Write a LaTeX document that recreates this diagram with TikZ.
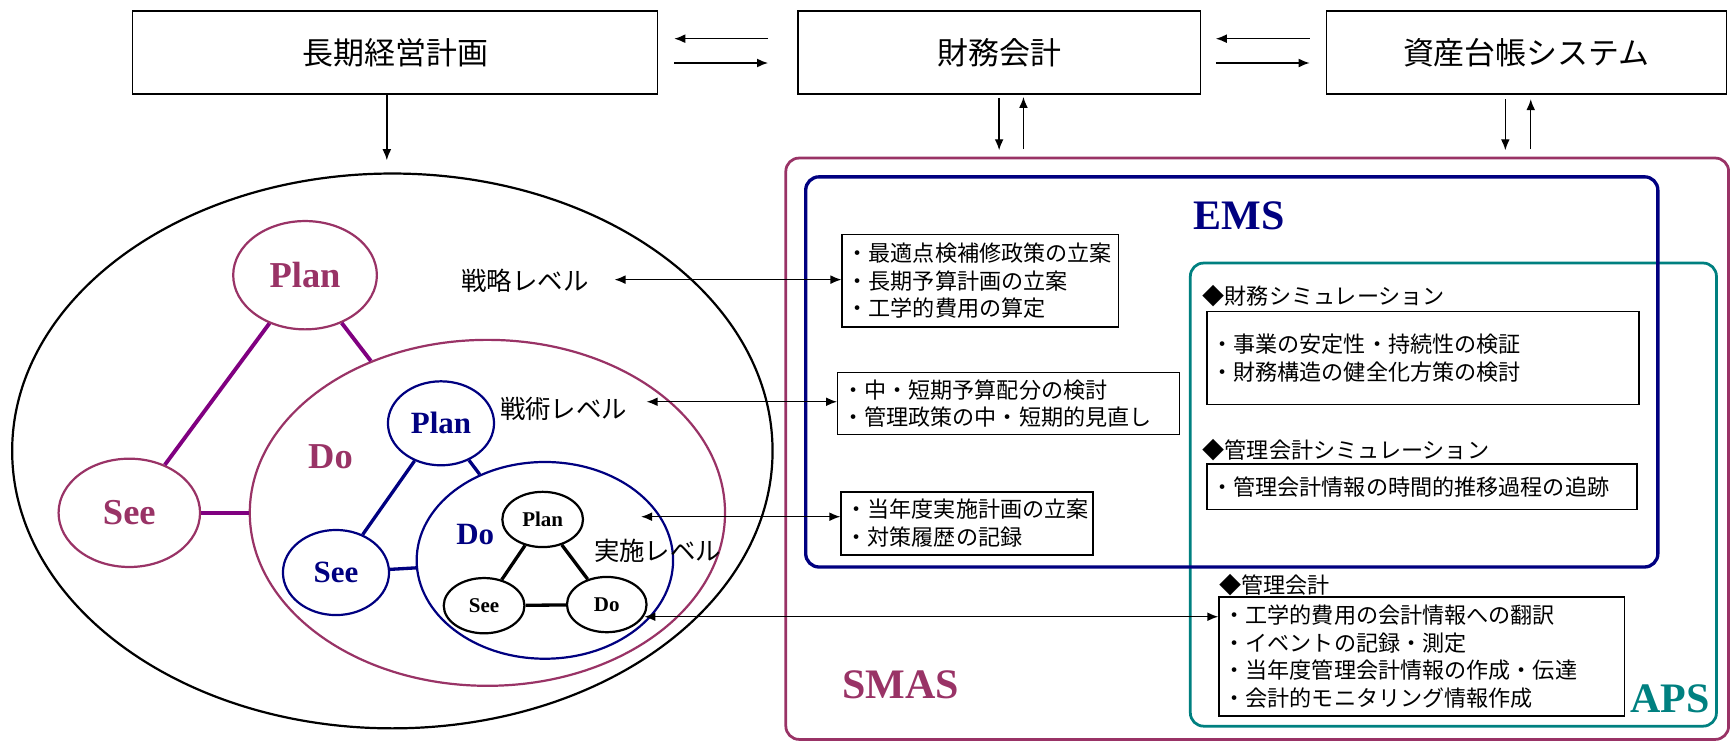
\documentclass[tikz,border=0pt]{standalone}
\usepackage{fontspec}
\newfontfamily\jp{Noto Sans CJK JP}
\newfontfamily\tms{Liberation Serif}
\usetikzlibrary{shapes.geometric,arrows.meta,calc}
\definecolor{maroon}{HTML}{993366}
\definecolor{purp}{HTML}{800080}
\definecolor{navy}{HTML}{000080}
\definecolor{teal}{HTML}{008080}
\begin{document}
\begin{tikzpicture}[x=1pt,y=-1pt,
  topbox/.style={draw, line width=1.3pt, inner sep=0pt, font=\jp\fontsize{28}{30}\selectfont},
  item/.style={draw, line width=1.3pt, inner xsep=4pt, inner ysep=0pt, align=left, font=\jp\fontsize{20}{25}\selectfont},
  head/.style={inner sep=0pt, anchor=west, font=\jp\fontsize{20}{25}\selectfont},
  lvl/.style={inner sep=0pt, font=\jp\fontsize{23}{25}\selectfont},
  ell/.style={ellipse, inner sep=0pt},
  big/.style={font=\tms\bfseries\fontsize{33}{35}\selectfont},
  mid/.style={font=\tms\bfseries\fontsize{28}{30}\selectfont},
  small/.style={font=\tms\bfseries\fontsize{19}{21}\selectfont},
  sys/.style={font=\tms\bfseries\fontsize{38}{40}\selectfont},
  arr/.style={line width=1.3pt, -{Latex[length=10pt,width=8pt]}},
  darr/.style={line width=1.3pt, {Latex[length=10pt,width=8pt]}-{Latex[length=10pt,width=8pt]}},
]
\useasboundingbox (0,0) rectangle (1568,673);

% top boxes
\node[topbox, minimum width=475pt, minimum height=75pt] (lt) at (357.5,47.5) {長期経営計画};
\node[topbox, minimum width=364pt, minimum height=75pt] (fa) at (904,47.5) {財務会計};
\node[topbox, minimum width=362pt, minimum height=75pt] (as) at (1381,47.5) {資産台帳システム};

\coordinate (h1a) at (695,35); \coordinate (h1b) at (610,35);
\coordinate (h2a) at (610,57); \coordinate (h2b) at (695,57);
\coordinate (h3a) at (1185,35); \coordinate (h3b) at (1100,35);
\coordinate (h4a) at (1100,57); \coordinate (h4b) at (1185,57);
\draw[arr] (h1a) -- (h1b);
\draw[arr] (h2a) -- (h2b);
\draw[arr] (h3a) -- (h3b);
\draw[arr] (h4a) -- (h4b);

\coordinate (v0) at (350,145);
\coordinate (v1) at (904,136);
\coordinate (v2) at (926,135);
\coordinate (v3) at (1362,136);
\coordinate (v4) at (1385,135);
\draw[arr] (lt.south -| v0) -- (v0);
\draw[arr, shorten <=3pt] (fa.south -| v1) -- (v1);
\draw[arr, shorten >=2pt] (v2) -- (fa.south -| v2);
\draw[arr, shorten <=4pt] (as.south -| v3) -- (v3);
\draw[arr, shorten >=4pt] (v4) -- (as.south -| v4);

% left: nested PDS cycles
\node[ell, draw=black, line width=2pt, minimum width=688pt, minimum height=502pt] (outer) at (355,408) {};
\node[ell, draw=maroon, line width=2pt, minimum width=430pt, minimum height=313pt] (mdo) at (441,464) {};
\node[ell, draw=maroon, line width=2pt, minimum width=130pt, minimum height=98pt, big, text=maroon] (mplan) at (276,249) {Plan};
\node[ell, draw=maroon, line width=2pt, minimum width=128pt, minimum height=98pt, big, text=maroon] (msee) at (117,464) {See};
\node[big, text=maroon] (mdolbl) at (299,413) {Do};
\draw[purp, line width=3.5pt] (mplan) -- (msee);
\draw[purp, line width=3.5pt] (mplan) -- (mdo);
\draw[purp, line width=3.5pt] (msee) -- (mdo);

\node[ell, draw=navy, line width=2pt, minimum width=232pt, minimum height=178pt] (bdo) at (493,507) {};
\node[ell, draw=navy, line width=2pt, minimum width=96pt, minimum height=76pt, mid, text=navy] (bplan) at (399,383) {Plan};
\node[ell, draw=navy, line width=2pt, minimum width=96pt, minimum height=77pt, mid, text=navy] (bsee) at (304,518) {See};
\node[mid, text=navy] (bdolbl) at (430,484) {Do};
\draw[navy, line width=3pt] (bplan) -- (bsee);
\draw[navy, line width=3pt] (bplan) -- (bdo);
\draw[navy, line width=3pt] (bsee) -- (bdo);

\node[ell, draw=black, line width=2pt, minimum width=73pt, minimum height=50pt, small] (kplan) at (491,470) {Plan};
\node[ell, draw=black, line width=2pt, minimum width=73pt, minimum height=50pt, small] (ksee) at (438,548) {See};
\node[ell, draw=black, line width=2pt, minimum width=72pt, minimum height=50pt, small] (kdo) at (549,547) {Do};
\draw[line width=3pt] (kplan) -- (ksee);
\draw[line width=3pt] (kplan) -- (kdo);
\draw[line width=3pt] (ksee) -- (kdo);

\node[lvl] (l1) at (475,254) {戦略レベル};
\node[lvl] (l2) at (510,370) {戦術レベル};
\node[lvl] (l3) at (595,498) {実施レベル};

% right: systems
\node[draw=maroon, line width=2.5pt, rounded corners=12pt, minimum width=853pt, minimum height=526pt, inner sep=0pt] (smas) at (1137.5,406) {};
\node[draw=teal, line width=2.5pt, rounded corners=12pt, minimum width=476pt, minimum height=419pt, inner sep=0pt] (aps) at (1315,447.5) {};
\node[draw=navy, line width=3pt, rounded corners=12pt, minimum width=771pt, minimum height=353pt, inner sep=0pt] (ems) at (1114.5,336.5) {};
\node[sys, text=navy] (emsl) at (1121,195) {EMS};
\node[sys, text=maroon] (smasl) at (815,620) {SMAS};
\node[sys, text=teal] (apsl) at (1511,632) {APS};

\node[item, minimum width=250pt, minimum height=84pt, text width=242pt] (b1) at (887,254)
  {・最適点検補修政策の立案\\・長期予算計画の立案\\・工学的費用の算定};
\node[item, minimum width=309pt, minimum height=56pt, text width=301pt] (b2) at (912.5,365)
  {・中・短期予算配分の検討\\・管理政策の中・短期的見直し};
\node[item, minimum width=228pt, minimum height=57pt, text width=220pt] (b3) at (875,473.5)
  {・当年度実施計画の立案\\・対策履歴の記録};

\node[head] (hf) at (1088,268) {◆財務シミュレーション};
\node[item, minimum width=391pt, minimum height=84pt, text width=383pt] (bf) at (1287.5,324)
  {・事業の安定性・持続性の検証\\・財務構造の健全化方策の検討};
\node[head] (hk) at (1088,407) {◆管理会計シミュレーション};
\node[item, minimum width=389pt, minimum height=41pt, text width=381pt] (bk) at (1286.5,440.5)
  {・管理会計情報の時間的推移過程の追跡};
\node[head] (hm) at (1103,529) {◆管理会計};
\node[item, minimum width=367pt, minimum height=108pt, text width=359pt] (bm) at (1286.5,594)
  {・工学的費用の会計情報への翻訳\\・イベントの記録・測定\\・当年度管理会計情報の作成・伝達\\・会計的モニタリング情報作成};

% level arrows
\coordinate (k1) at (556,253);
\coordinate (k2) at (585,363.5);
\coordinate (k3) at (580,467.5);
\coordinate (k4) at (583,558);
\draw[darr] (k1) -- (k1 -| b1.west);
\draw[darr] (k2) -- (k2 -| b2.west);
\draw[darr] (k3) -- (k3 -| b3.west);
\draw[darr] (k4) -- (k4 -| bm.west);
\end{tikzpicture}
\end{document}
